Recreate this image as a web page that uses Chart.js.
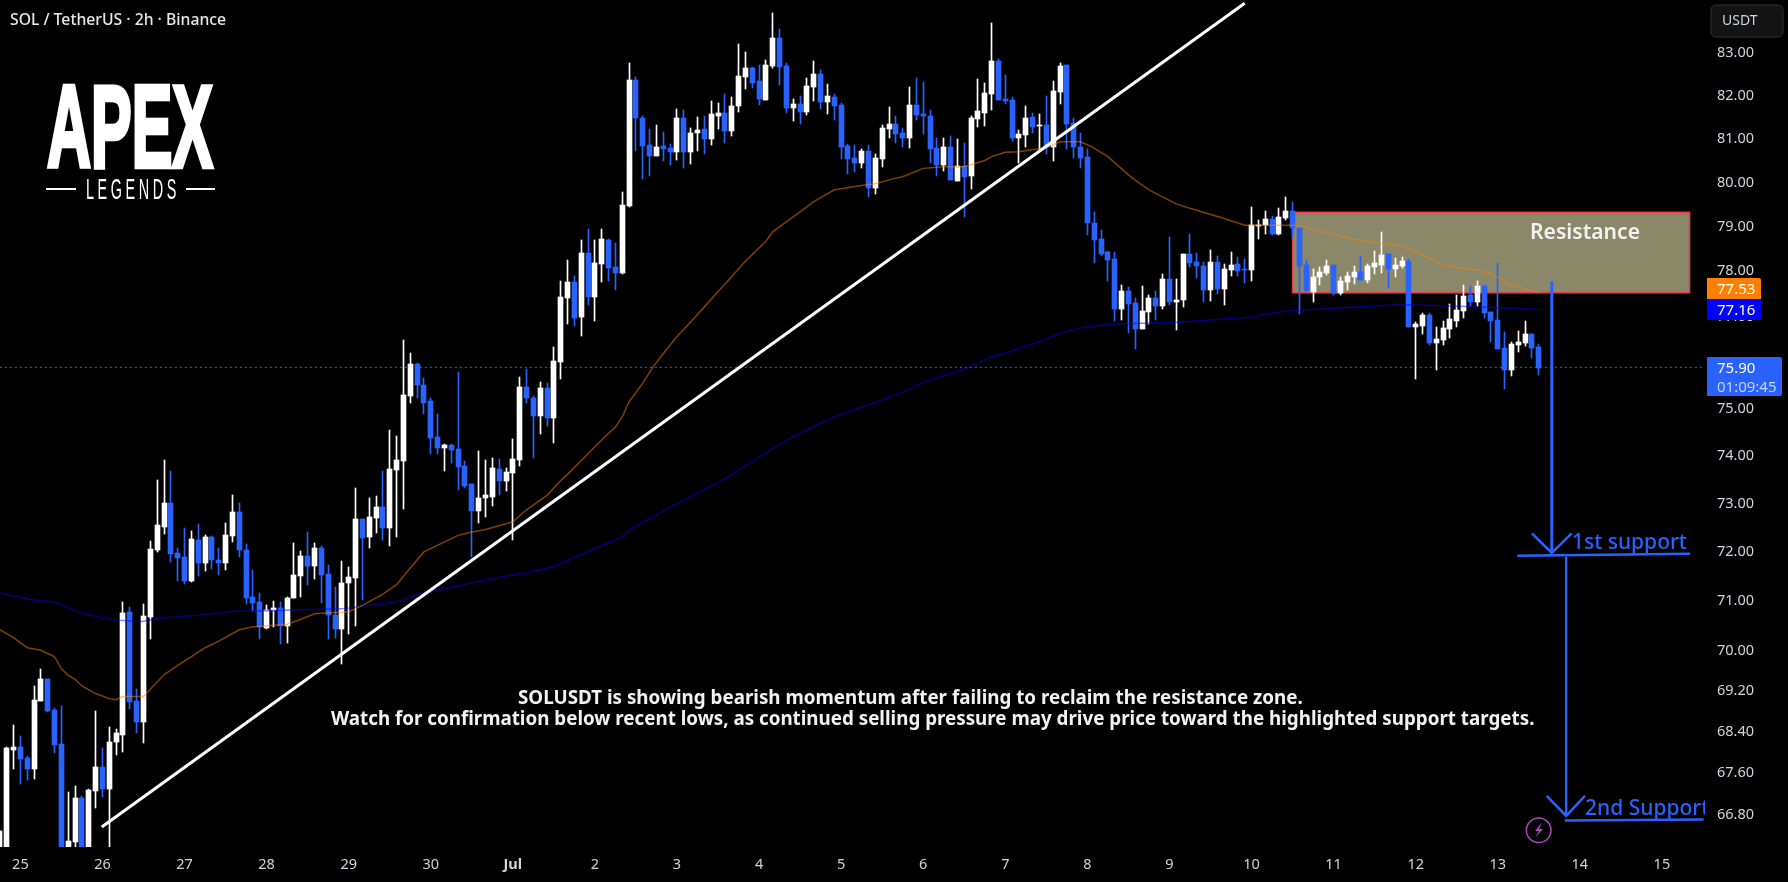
<!DOCTYPE html>
<html>
<head>
<meta charset="utf-8">
<title>SOLUSDT 2h</title>
<script src="https://cdn.jsdelivr.net/npm/chart.js@4"></script>
<style>
  html, body { margin: 0; padding: 0; background: #000; overflow: hidden; }
  canvas { display: block; }
</style>
</head>
<body>
<canvas id="chart" width="1788" height="882"></canvas>
<script>
// candles, first one sits half outside the left edge (index -1), then ten a row
const opens = [66.10,
  66.00,68.05,68.10,67.89,67.68,69.00,69.43,68.82,68.16,66.05,
  66.28,67.12,66.05,67.26,67.72,67.29,68.20,68.34,70.77,69.00,
  68.59,70.67,72.03,72.52,73.01,71.97,71.89,71.40,72.24,71.77,
  72.30,71.83,71.77,72.32,72.82,72.03,71.09,70.97,70.45,70.81,
  70.85,70.49,71.05,71.50,71.91,71.71,72.07,71.54,70.71,70.43,
  71.36,71.46,72.67,72.30,72.69,72.92,72.49,73.70,73.89,75.27,
  75.96,75.51,75.17,74.40,74.16,74.23,74.14,73.78,73.41,72.84,
  73.11,73.13,73.72,73.47,73.64,73.91,75.47,75.23,74.84,75.45,
  74.80,76.00,77.41,77.76,76.99,78.41,77.43,78.16,78.70,78.09,
  77.96,79.47,82.37,81.48,80.86,80.61,80.83,80.79,80.70,81.48,
  80.70,81.13,81.23,81.00,81.53,81.60,81.18,81.76,82.44,82.65,
  82.35,81.90,82.70,83.37,82.70,81.72,81.81,81.62,82.21,82.51,
  81.86,81.97,81.79,80.83,80.56,80.44,80.72,79.87,80.53,81.23,
  81.34,81.13,81.02,81.79,81.58,81.53,80.79,80.40,80.81,80.03,
  80.37,80.15,81.46,81.60,82.04,82.82,81.93,81.90,81.02,81.09,
  81.50,81.30,81.32,80.81,82.09,82.72,81.37,80.81,80.58,79.08,
  78.72,78.43,78.27,77.16,77.56,77.29,76.72,77.10,77.41,77.23,
  77.83,77.32,77.36,78.38,78.20,78.11,77.58,78.20,77.60,78.03,
  78.16,78.05,78.03,79.01,79.03,79.17,78.83,79.20,79.35,78.97,
  78.14,77.54,77.87,77.96,78.14,77.52,77.76,77.87,77.98,77.80,
  78.09,78.14,78.38,78.05,78.12,78.23,76.77,76.79,77.03,76.42,
  76.49,76.72,76.90,77.12,77.47,77.32,77.67,77.10,76.92,76.31,
  75.83,76.38,76.42,76.61,76.33];
const highs = [66.52,
  68.10,68.53,68.32,67.93,69.29,69.64,69.43,68.86,68.90,67.23,
  67.35,67.16,67.29,68.81,68.08,68.49,68.45,70.97,70.87,69.24,
  70.93,72.22,73.49,73.91,73.67,72.07,72.49,72.43,72.57,72.34,
  72.32,72.07,72.59,73.17,73.01,72.16,71.63,71.16,70.91,70.99,
  70.97,71.09,72.18,72.01,72.40,72.18,72.12,71.73,71.28,71.81,
  71.69,73.32,72.67,73.11,73.15,73.67,74.55,74.42,76.48,76.20,
  75.99,75.66,75.22,74.89,74.25,74.25,75.79,73.89,73.41,74.10,
  73.91,73.95,73.93,73.74,74.35,75.68,75.85,75.27,75.58,75.55,
  76.33,77.78,78.25,77.89,78.70,78.94,78.70,78.94,78.72,78.63,
  79.78,82.77,82.44,81.53,81.23,81.32,81.16,80.88,81.69,81.67,
  81.25,81.50,81.53,81.88,81.83,82.04,81.97,83.22,83.03,82.68,
  82.72,82.84,83.97,83.58,82.77,81.93,82.00,82.42,82.82,82.61,
  82.27,82.04,81.83,80.88,80.86,80.77,80.86,80.65,81.32,81.74,
  81.53,81.25,82.21,82.42,82.32,81.67,81.02,81.02,81.06,81.00,
  80.90,81.53,82.40,82.30,83.73,82.87,82.49,81.97,81.20,81.76,
  81.60,81.58,82.00,82.35,82.77,82.72,81.48,81.13,80.76,79.32,
  78.92,78.45,78.43,77.69,77.65,77.41,77.67,77.47,77.56,77.94,
  78.76,77.83,78.38,78.83,78.40,78.20,78.47,78.33,78.16,78.43,
  78.31,78.27,79.44,79.15,79.35,79.24,79.42,79.67,79.56,78.97,
  78.25,78.05,78.09,78.25,78.14,77.87,77.98,78.11,78.34,78.16,
  78.45,78.88,78.38,78.30,78.31,78.27,76.88,77.07,77.07,76.77,
  76.90,77.27,77.47,77.69,77.67,77.78,77.69,77.10,78.18,76.65,
  76.45,76.68,76.90,76.61,76.40];
const lows = [65.90,
  65.90,67.68,67.39,67.47,67.49,69.00,68.79,67.99,65.95,65.95,
  66.10,65.95,65.98,66.93,67.14,66.15,67.95,68.00,68.84,68.38,
  68.18,70.23,71.99,72.36,71.79,71.40,71.34,71.38,71.50,71.60,
  71.65,71.52,71.63,72.20,71.89,70.93,70.79,70.23,70.43,70.47,
  70.13,70.15,71.05,71.09,71.32,71.44,70.95,70.23,70.25,69.73,
  70.33,70.49,71.01,72.07,72.38,72.24,72.12,72.30,72.88,75.12,
  75.23,74.89,74.03,74.03,73.68,73.85,73.28,73.32,71.89,72.59,
  72.72,72.94,73.17,73.26,72.24,73.78,75.12,73.95,74.46,74.63,
  74.27,75.64,76.83,76.78,76.57,77.25,76.90,77.76,77.78,77.58,
  77.94,79.43,80.72,80.08,80.15,80.61,80.49,80.40,80.51,80.33,
  80.42,80.72,80.65,80.86,81.23,80.90,81.06,81.62,82.16,82.18,
  81.79,81.90,82.65,82.25,81.60,81.41,81.34,81.55,81.88,81.69,
  81.58,81.44,80.53,80.19,80.24,80.33,79.67,79.74,80.35,81.02,
  80.90,80.81,80.79,81.44,81.11,80.44,80.15,80.26,80.05,80.03,
  79.22,79.85,81.27,81.30,81.67,81.90,81.81,80.95,80.44,80.81,
  81.13,80.74,80.65,80.49,81.81,80.76,80.56,80.33,78.81,78.18,
  78.33,77.78,76.90,76.92,76.63,76.28,76.72,76.83,76.92,77.16,
  77.25,76.70,77.21,78.09,77.85,77.32,77.34,77.49,77.25,77.89,
  77.89,77.74,77.78,78.72,78.83,78.81,78.81,79.15,78.76,77.05,
  77.56,77.32,77.69,77.92,77.47,77.47,77.58,77.72,77.80,77.74,
  77.93,77.96,77.63,77.87,78.07,76.77,75.64,76.62,76.38,75.83,
  76.38,76.53,76.77,76.96,77.23,77.23,76.96,76.45,76.29,75.42,
  75.70,76.22,76.35,76.09,75.72];
const closes = [66.49,
  68.08,68.10,67.87,67.68,69.02,69.43,68.81,68.15,66.05,66.30,
  67.12,66.05,67.27,67.72,67.29,68.20,68.38,70.75,68.98,68.59,
  70.69,72.05,72.55,73.01,71.95,71.87,71.40,72.26,71.77,72.30,
  71.83,71.77,72.34,72.82,72.03,71.07,70.95,70.47,70.81,70.85,
  70.49,71.07,71.52,71.91,71.71,72.07,71.52,70.71,70.43,71.36,
  71.48,72.67,72.28,72.71,72.92,72.49,73.73,73.91,75.29,75.96,
  75.51,75.12,74.38,74.16,74.23,74.12,73.76,73.36,72.84,73.11,
  73.17,73.74,73.47,73.65,73.93,75.47,75.23,74.84,75.45,74.80,
  76.03,77.43,77.76,76.96,78.41,77.43,78.18,78.72,78.07,77.96,
  79.49,82.37,81.48,80.83,80.61,80.81,80.76,80.70,81.48,80.70,
  81.13,81.20,81.00,81.58,81.60,81.18,81.76,82.47,82.65,82.30,
  81.93,82.72,83.36,82.68,81.72,81.81,81.62,82.23,82.51,81.86,
  82.00,81.76,80.81,80.53,80.44,80.72,79.87,80.56,81.25,81.34,
  81.11,81.02,81.79,81.55,81.53,80.76,80.40,80.81,80.05,80.37,
  80.12,81.48,81.65,82.07,82.82,81.90,81.88,81.02,81.11,81.48,
  81.27,81.32,80.81,82.12,82.70,81.34,80.81,80.56,79.08,78.70,
  78.39,78.25,77.16,77.56,77.27,76.72,77.12,77.41,77.23,77.83,
  77.32,77.36,78.38,78.18,78.11,77.58,78.20,77.60,78.05,78.14,
  78.00,78.03,79.03,79.03,79.17,78.83,79.22,79.35,78.97,78.11,
  77.56,77.87,77.98,78.11,77.52,77.78,77.89,77.98,77.80,78.11,
  78.18,78.36,78.05,78.14,78.23,76.77,76.83,77.03,76.42,76.50,
  76.75,76.94,77.14,77.45,77.32,77.67,77.07,76.90,76.29,75.83,
  76.39,76.44,76.61,76.31,75.87];

// moving averages read at their visible bends: [candle index, price]
const emaFast = [[-1,70.42],[1,70.26],[3,70.06],[5,70.01],[7,69.88],[8,69.64],[9,69.51],[10,69.43],[11,69.30],[13,69.15],[15,69.05],[16,69.03],[17,69.09],[20,69.09],[22,69.38],[23,69.52],[25,69.71],[27,69.88],[29,70.06],[31,70.19],[34,70.42],[36,70.48],[41,70.53],[43,70.63],[45,70.74],[50,70.78],[52,70.91],[55,71.14],[57,71.33],[59,71.67],[61,72.00],[66,72.34],[68,72.41],[70,72.46],[74,72.62],[76,72.87],[79,73.17],[81,73.48],[82,73.61],[87,74.34],[89,74.61],[90,74.83],[91,75.15],[93,75.55],[94.5,75.90],[96,76.19],[98,76.56],[100,76.88],[102,77.21],[104,77.55],[105,77.71],[108,78.22],[111,78.67],[112,78.88],[114,79.11],[116,79.33],[118,79.56],[121,79.83],[124.5,79.92],[127,79.97],[129.5,80.08],[131,80.13],[134,80.32],[137,80.36],[140,80.36],[143,80.50],[144,80.59],[146,80.69],[148,80.70],[152,80.80],[154,80.93],[157,80.93],[158.6,80.82],[161,80.59],[164,80.17],[165,80.05],[167,79.83],[171,79.51],[173,79.41],[178,79.18],[181,79.03],[188,79.03],[189.5,79.00],[191.5,78.91],[194,78.83],[197,78.71],[199.5,78.64],[204,78.56],[206.5,78.40],[210,78.14],[212,78.08],[215,78.02],[217,77.94],[220,77.69],[224,77.53]];
const emaSlow = [[-1,71.16],[3.4,71.03],[7,70.98],[9,70.86],[11,70.75],[15.6,70.62],[19.5,70.58],[23,70.66],[28,70.71],[33,70.79],[38,70.80],[43,70.82],[49,70.84],[55,70.94],[57.5,71.00],[60,71.13],[65,71.28],[72,71.48],[78,71.63],[80,71.70],[86,72.07],[90,72.31],[91,72.45],[97.5,72.96],[105,73.52],[111.6,74.12],[115,74.41],[119,74.69],[121,74.83],[125,75.03],[131,75.35],[134,75.56],[137.4,75.73],[140.5,75.88],[143.7,76.10],[146,76.20],[151.5,76.48],[154.5,76.66],[157,76.75],[161,76.83],[171,76.87],[181,76.97],[187,77.12],[196.5,77.20],[203.7,77.26],[213.5,77.22],[224,77.16]];

// axes
const priceTicks = [83,82,81,80,79,78,77,75,74,73,72,71,70,69.2,68.4,67.6,66.8];
const dayTicks = [2,14,26,38,50,62,74,86,98,110,122,134,146,158,170,182,194,206,218,230,242];
const dayLabels = ['25','26','27','28','29','30','Jul','2','3','4','5','6','7','8','9','10','11','12','13','14','15'];

// drawings
const trendLine = [[13.9,66.57],[181,84.19]];
const resistance = { from: 188, to: 246.05, low: 77.52, high: 79.32 };
const lastPrice = 75.89;
const arrowOne = [[225.9,77.77],[225.9,71.98]];
const arrowOneHead = [[223,72.38],[225.9,71.98],[228.8,72.38]];
const supportOne = [[220.85,71.92],[246.1,71.96]];
const arrowTwo = [[228,71.9],[228,66.78]];
const arrowTwoHead = [[225.15,67.16],[228,66.78],[230.75,67.16]];
const supportTwo = [[227.8,66.69],[248.1,66.71]];

const WHITE = '#ffffff';
const BLUE = '#2962ff';
const FONT = '"Noto Sans", sans-serif';

const pts = list => list.map(p => ({ x: p[0], y: p[1] }));
const candleColor = opens.map((o, n) => closes[n] >= o ? WHITE : BLUE);

function lineSet(list, color, width, order, extra) {
  return Object.assign({
    type: 'line', data: pts(list), borderColor: color, borderWidth: width,
    pointRadius: 0, fill: false, tension: 0, order: order
  }, extra || {});
}

// the axes reserve room for their end labels, the pane has to run to the edge
function noAxisPadding(s) {
  s.paddingTop = 0;
  s.paddingBottom = 0;
  s.paddingLeft = 0;
  s.paddingRight = 0;
}

// snap the candles to whole pixels, they look too soft otherwise
const snapBars = {
  id: 'snapBars',
  afterDatasetsUpdate(chart) {
    chart.data.datasets.forEach((ds, n) => {
      if (ds.type !== 'bar') return;
      chart.getDatasetMeta(n).data.forEach(el => {
        el.x = Math.floor(el.x) + 0.5;
        el.y = Math.round(el.y);
        el.base = Math.round(el.base);
        if (el.base === el.y) el.base += 1;
      });
    });
  }
};

// resistance zone sits under the candles
const zonePlugin = {
  id: 'zone',
  beforeDatasetsDraw(chart) {
    const { ctx, scales: { x, y } } = chart;
    const l = x.getPixelForValue(resistance.from), r = x.getPixelForValue(resistance.to);
    const t = y.getPixelForValue(resistance.high), b = y.getPixelForValue(resistance.low);
    ctx.save();
    ctx.fillStyle = '#8b8769';
    ctx.fillRect(l, t, r - l, b - t);
    ctx.strokeStyle = '#f23645';
    ctx.lineWidth = 1.5;
    ctx.strokeRect(l, t, r - l, b - t);
    ctx.restore();
  }
};

function priceBox(ctx, x, y, w, h, color, radius) {
  ctx.fillStyle = color;
  ctx.beginPath();
  ctx.roundRect(x, y, w, h, radius);
  ctx.fill();
}

const overlay = {
  id: 'overlay',
  afterDraw(chart) {
    const { ctx } = chart;
    ctx.save();
    ctx.textBaseline = 'alphabetic';
    ctx.textAlign = 'left';

    // header
    ctx.fillStyle = '#e8e8e8';
    ctx.font = '500 16px ' + FONT;
    ctx.fillText('SOL / TetherUS · 2h · Binance', 10, 25, 216);

    // logo, narrow bold thickened with a stroke
    ctx.fillStyle = WHITE;
    ctx.strokeStyle = WHITE;
    ctx.save();
    ctx.font = 'bold 100px "Liberation Sans Narrow", "Liberation Sans", sans-serif';
    let w = ctx.measureText('APEX').width;
    ctx.translate(47, 167);
    ctx.scale(166 / w, 80 / 69);
    ctx.lineWidth = 4;
    ctx.lineJoin = 'miter';
    ctx.fillText('APEX', 0, 0);
    ctx.strokeText('APEX', 0, 0);
    ctx.restore();
    ctx.save();
    ctx.font = '20px "Liberation Sans Narrow", "Liberation Sans", sans-serif';
    ctx.letterSpacing = '5px';
    w = ctx.measureText('LEGENDS').width;
    ctx.translate(86, 199);
    ctx.scale(94 / w, 20 / 14);
    ctx.fillText('LEGENDS', 0, 0);
    ctx.restore();
    ctx.fillRect(46, 188, 30, 2);
    ctx.fillRect(186, 188, 29, 2);

    // notes
    ctx.font = 'bold 18.8px ' + FONT;
    ctx.fillStyle = '#f2f2f2';
    ctx.fillText('SOLUSDT is showing bearish momentum after failing to reclaim the resistance zone.', 518, 704, 785);
    ctx.fillText('Watch for confirmation below recent lows, as continued selling pressure may drive price toward the highlighted support targets.', 331, 725, 1206);
    ctx.font = '600 21.5px ' + FONT;
    ctx.fillText('Resistance', 1530, 239, 110);

    // support labels, cut at the pane edge like the drawing itself
    ctx.save();
    ctx.beginPath();
    ctx.rect(0, 0, chart.chartArea.right, chart.chartArea.bottom);
    ctx.clip();
    ctx.fillStyle = BLUE;
    ctx.font = '500 21px ' + FONT;
    ctx.fillText('1st support', 1572, 549, 116);
    ctx.fillText('2nd Support', 1585, 815);
    ctx.restore();

    // alert badge
    ctx.strokeStyle = '#ab47bc';
    ctx.fillStyle = '#ab47bc';
    ctx.lineWidth = 1.5;
    ctx.beginPath();
    ctx.arc(1538.7, 830.3, 12.3, 0, Math.PI * 2);
    ctx.stroke();
    ctx.beginPath();
    ctx.moveTo(1542, 822);
    ctx.lineTo(1535, 831);
    ctx.lineTo(1539, 831);
    ctx.lineTo(1535, 838);
    ctx.lineTo(1543, 829);
    ctx.lineTo(1539, 829);
    ctx.closePath();
    ctx.fill();

    // price scale badges
    ctx.strokeStyle = '#333333';
    ctx.lineWidth = 1;
    ctx.fillStyle = '#131313';
    ctx.beginPath();
    ctx.roundRect(1711, 5, 72, 32, 5);
    ctx.fill();
    ctx.stroke();
    ctx.fillStyle = '#d1d4dc';
    ctx.font = '14px ' + FONT;
    ctx.fillText('USDT', 1722, 25);

    ctx.font = '15px ' + FONT;
    priceBox(ctx, 1707, 278, 54, 21, '#ff8000', [0, 2, 0, 0]);
    ctx.fillStyle = WHITE;
    ctx.fillText('77.53', 1717, 294);
    priceBox(ctx, 1707, 299, 54, 21, '#0000ff', [0, 0, 2, 0]);
    ctx.fillStyle = WHITE;
    ctx.fillText('77.16', 1717, 315);
    priceBox(ctx, 1707, 357, 75, 39, BLUE, [0, 2, 2, 0]);
    ctx.fillStyle = WHITE;
    ctx.fillText('75.90', 1717, 373);
    ctx.fillStyle = '#c4d3ff';
    ctx.fillText('01:09:45', 1717, 392);
    ctx.restore();
  }
};

new Chart(document.getElementById('chart'), {
  type: 'bar',
  data: {
    datasets: [
      lineSet(trendLine, WHITE, 3, 0),
      lineSet(arrowOne, BLUE, 3, 0),
      lineSet(arrowOneHead, BLUE, 2.5, 0),
      lineSet(supportOne, BLUE, 2.5, 0),
      lineSet(arrowTwo, BLUE, 2.5, 0),
      lineSet(arrowTwoHead, BLUE, 2.5, 0),
      lineSet(supportTwo, BLUE, 2.5, 0),
      lineSet(emaFast, 'rgba(255,128,0,0.5)', 1.5, 1),
      lineSet(emaSlow, 'rgba(0,0,255,0.5)', 1.5, 1),
      lineSet([[-1, lastPrice], [248.3, lastPrice]], BLUE, 1, 4, { borderDash: [2, 3] }),
      {
        type: 'bar', order: 2, barThickness: 5, grouped: false,
        data: opens.map((o, n) => ({ x: n - 1, y: [o, closes[n]] })),
        backgroundColor: candleColor
      },
      {
        type: 'bar', order: 3, barThickness: 1, grouped: false,
        data: highs.map((h, n) => ({ x: n - 1, y: [lows[n], h] })),
        backgroundColor: candleColor
      }
    ]
  },
  options: {
    responsive: false,
    animation: false,
    devicePixelRatio: 1,
    layout: { padding: 0 },
    plugins: { legend: { display: false }, tooltip: { enabled: false } },
    scales: {
      x: {
        type: 'linear',
        offset: false,
        min: -0.98,
        max: 248.3,
        grid: { display: false, drawTicks: false },
        border: { display: false },
        afterBuildTicks: s => { s.ticks = dayTicks.map(v => ({ value: v })); },
        afterFit: s => { s.height = 35; noAxisPadding(s); },
        ticks: {
          autoSkip: false,
          maxRotation: 0,
          padding: 9,
          color: '#d1d4dc',
          font: c => ({ family: FONT, size: 14.5, weight: c.tick && c.tick.label === 'Jul' ? 'bold' : 'normal' }),
          callback: v => dayLabels[dayTicks.indexOf(v)]
        }
      },
      y: {
        type: 'logarithmic',
        position: 'right',
        bounds: 'data',
        min: 66.19,
        max: 84.27,
        grid: { display: false, drawTicks: false },
        border: { display: false },
        afterBuildTicks: s => { s.ticks = priceTicks.map(v => ({ value: v })); },
        afterFit: s => { s.width = 83; noAxisPadding(s); },
        ticks: {
          autoSkip: false,
          padding: 12,
          color: '#d1d4dc',
          align: 'center',
          font: { family: FONT, size: 14.5 },
          callback: v => v.toFixed(2)
        }
      }
    }
  },
  plugins: [snapBars, zonePlugin, overlay]
});
</script>
</body>
</html>
